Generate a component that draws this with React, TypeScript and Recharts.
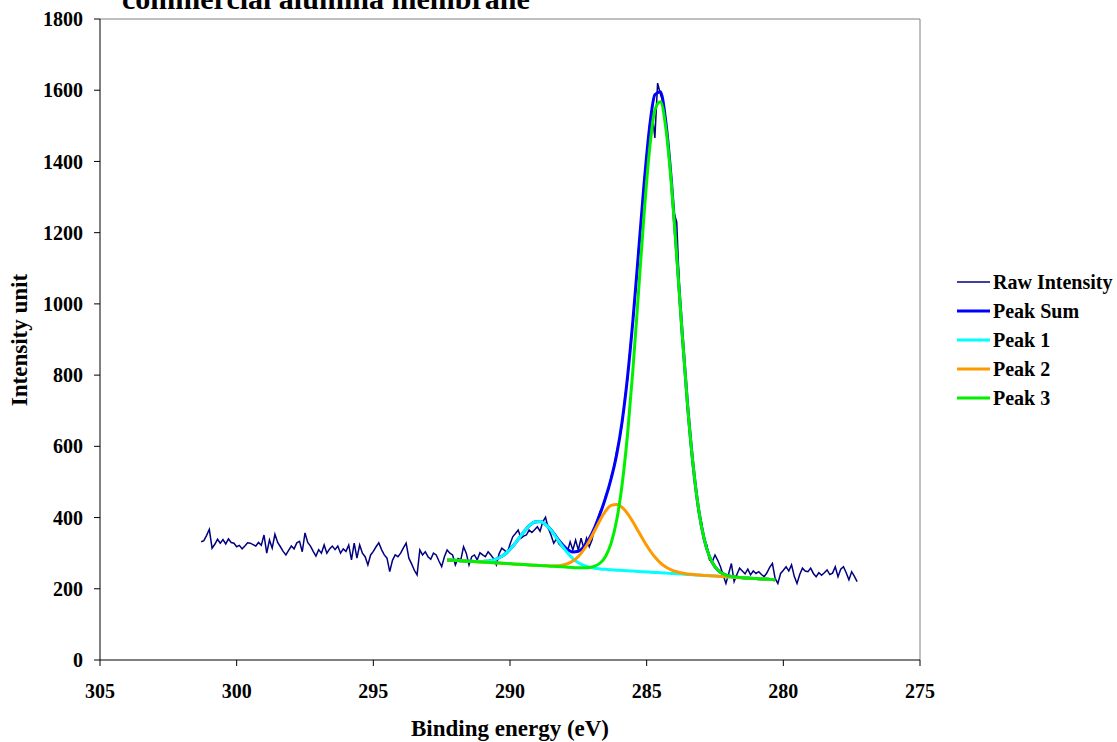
import React from 'react';
import { LineChart, Line, XAxis, YAxis, ReferenceLine } from 'recharts';

const CHART_TITLE = 'commercial alumina membrane';
const X_TITLE = 'Binding energy (eV)';
const Y_TITLE = 'Intensity unit';

const xTicks = [305, 300, 295, 290, 285, 280, 275];
const yTicks = [0, 200, 400, 600, 800, 1000, 1200, 1400, 1600, 1800];

// Raw spectrum: binding energy grid 301.3 eV -> 277.3 eV, 0.1 eV step
const RAW_START = 301.3;
const RAW_STEP = 0.1;
const rawIntensity = [
  332, 335, 350, 367, 314, 325, 339, 328, 338, 326,
  340, 330, 328, 318, 322, 312, 320, 329, 328, 324,
  320, 330, 322, 351, 300, 337, 314, 353, 330, 318,
  305, 295, 308, 320, 312, 329, 333, 304, 357, 330,
  320, 305, 292, 310, 300, 323, 300, 312, 320, 310,
  320, 300, 312, 305, 323, 281, 328, 286, 323, 300,
  290, 267, 295, 305, 318, 329, 310, 295, 286, 248,
  280, 295, 290, 300, 315, 328, 286, 270, 252, 239,
  309, 295, 304, 290, 283, 300, 295, 278, 262, 290,
  309, 300, 295, 267, 285, 281, 318, 300, 267, 290,
  295, 281, 301, 295, 290,
  304, 295, 285, 267, 298,
  314, 308, 300, 325, 346, 355, 365, 342, 348, 351,
  365, 358, 366, 374, 362, 388, 401, 370, 351, 328,
  340, 325, 318, 310, 304, 332, 309, 337, 309, 342,
  314, 342, 318, 337,
  374, 395, 418, 430, 462, 478,
  515, 540, 585, 618, 660, 735, 790, 880, 950, 1045,
  1150, 1230, 1340, 1410, 1500, 1540, 1466, 1620, 1590, 1565,
  1505, 1440, 1345, 1255, 1230, 1040, 905, 820, 700, 630,
  540, 485, 415, 390, 335, 323,
  281, 276, 295, 280, 262, 238, 215, 243, 271, 220,
  240, 258, 250, 242, 255, 239, 250, 243, 248, 240,
  234, 245, 260, 271, 229, 215, 243, 252, 262, 250,
  267, 235, 215, 240, 258, 250, 248, 258, 243, 234,
  245, 238, 245, 253, 240, 244, 262, 234, 255, 262,
  245, 225, 248, 235, 220,
];

// Fitted curves: binding energy grid 292.3 eV -> 280.3 eV, 0.2 eV step
const FIT_START = 292.3;
const FIT_STEP = 0.2;
const peakSum = [
  281.0, 280.1, 279.2, 278.3, 277.5, 276.8, 276.6, 277.1, 279.0, 283.4,
  291.1, 303.0, 319.3, 338.8, 359.2, 376.5, 387.4, 389.0, 381.1, 365.1,
  345.2, 325.6, 310.6, 303.1, 305.2, 318.4, 341.3, 372.7, 411.3, 456.3,
  509.4, 576.1, 668.5, 794.7, 956.3, 1143.0, 1332.4, 1491.6, 1587.4, 1596.0,
  1511.9, 1349.8, 1139.8, 917.3, 713.0, 546.3, 423.0, 340.7, 290.0, 261.4,
  246.3, 238.5, 234.7, 232.7, 231.1, 230.1, 229.2, 228.3, 227.4, 226.4,
  225.5,
];
const peak1 = [
  281.0, 280.1, 279.2, 278.3, 277.5, 276.8, 276.6, 277.1, 279.0, 283.4,
  291.1, 303.0, 319.3, 338.8, 359.2, 376.5, 387.4, 389.0, 380.7, 364.2,
  343.1, 320.9, 301.0, 284.9, 273.3, 265.6, 260.8, 257.7, 255.8, 254.5,
  253.4, 252.3, 251.4, 250.5, 249.6, 248.6, 247.7, 246.8, 245.9, 244.9,
  244.0, 243.1, 242.2, 241.2, 240.3, 239.4, 238.5, 237.5, 236.6, 235.7,
  234.8, 233.8, 232.9, 232.0, 231.1, 230.1, 229.2, 228.3, 227.4, 226.4,
  225.5,
];
const peak2 = [
  281.0, 280.1, 279.2, 278.2, 277.3, 276.4, 275.5, 274.5, 273.6, 272.7,
  271.8, 270.8, 269.9, 269.0, 268.1, 267.1, 266.2, 265.3, 264.8, 264.3,
  264.6, 266.3, 270.3, 277.9, 290.7, 309.6, 334.5, 363.5, 393.3, 418.6,
  434.3, 436.9, 428.6, 411.3, 387.7, 360.8, 334.0, 309.6, 289.1, 273.0,
  261.3, 253.2, 247.8, 244.1, 241.7, 240.1, 238.5, 237.5, 236.6, 235.7,
  234.8, 233.8, 232.9, 232.0, 231.1, 230.1, 229.2, 228.3, 227.4, 226.4,
  225.5,
];
const peak3 = [
  281.0, 280.1, 279.2, 278.2, 277.3, 276.4, 275.5, 274.5, 273.6, 272.7,
  271.8, 270.8, 269.9, 269.0, 268.1, 267.1, 266.2, 265.3, 264.4, 263.4,
  262.5, 261.6, 260.7, 259.7, 258.8, 259.0, 260.0, 263.5, 272.4, 291.6,
  328.3, 391.5, 491.3, 633.9, 818.2, 1030.8, 1246.1, 1428.8, 1544.2, 1567.9,
  1494.6, 1339.7, 1134.2, 914.4, 711.6, 545.6, 423.0, 340.7, 290.0, 261.4,
  246.3, 238.5, 234.7, 232.7, 231.1, 230.1, 229.2, 228.3, 227.4, 226.4,
  225.5,
];

const toPoints = (start: number, step: number, vals: number[]) =>
  vals.map((v, i) => ({ e: Math.round((start - step * i) * 100) / 100, v }));

const series = [
  { name: 'Raw Intensity', data: toPoints(RAW_START, RAW_STEP, rawIntensity), color: '#000080', width: 1.5, type: 'linear' },
  { name: 'Peak Sum', data: toPoints(FIT_START, FIT_STEP, peakSum), color: '#0000FF', width: 3, type: 'monotone' },
  { name: 'Peak 1', data: toPoints(FIT_START, FIT_STEP, peak1), color: '#00FFFF', width: 3, type: 'monotone' },
  { name: 'Peak 2', data: toPoints(FIT_START, FIT_STEP, peak2), color: '#FF9900', width: 3, type: 'monotone' },
  { name: 'Peak 3', data: toPoints(FIT_START, FIT_STEP, peak3), color: '#00F000', width: 3, type: 'monotone' },
];

const FONT = "'Liberation Serif', 'Times New Roman', serif";
const tickStyle = { fill: '#000', fontSize: 20, fontWeight: 700, fontFamily: FONT };

export default function App() {
  return (
    <div style={{ position: 'absolute', left: 0, top: 0, width: 1117, height: 742, background: '#fff' }}>
      <LineChart width={1117} height={742} margin={{ top: 19, right: 197, bottom: 0, left: 0 }}>
        <XAxis
          type="number"
          dataKey="e"
          domain={[275, 305]}
          reversed
          ticks={xTicks}
          interval={0}
          allowDuplicatedCategory={false}
          height={82}
          tickSize={6}
          tickMargin={18}
          tick={tickStyle}
          stroke="#000"
          axisLine={{ stroke: '#000', strokeWidth: 1 }}
          tickLine={{ stroke: '#000' }}
        />
        <YAxis
          type="number"
          domain={[0, 1800]}
          ticks={yTicks}
          interval={0}
          width={100}
          tickSize={6}
          tickMargin={11}
          tick={tickStyle}
          axisLine={{ stroke: '#000', strokeWidth: 1 }}
          tickLine={{ stroke: '#000' }}
        />
        <ReferenceLine y={1800} stroke="#808080" strokeWidth={1} />
        <ReferenceLine x={275} stroke="#808080" strokeWidth={1} />
        {series.map((s) => (
          <Line
            key={s.name}
            data={s.data}
            dataKey="v"
            name={s.name}
            type={s.type as any}
            stroke={s.color}
            strokeWidth={s.width}
            dot={false}
            activeDot={false}
            isAnimationActive={false}
          />
        ))}
      </LineChart>
      <svg
        width={1117}
        height={742}
        style={{ position: 'absolute', left: 0, top: 0, pointerEvents: 'none' }}
      >
        <text x={122} y={9} fontFamily={FONT} fontWeight={700} fontSize={30} fill="#000">
          {CHART_TITLE}
        </text>
        <text
          x={510}
          y={736}
          textAnchor="middle"
          fontFamily={FONT}
          fontWeight={700}
          fontSize={23}
          fill="#000"
        >
          {X_TITLE}
        </text>
        <text
          x={27}
          y={340}
          textAnchor="middle"
          transform="rotate(-90 27 340)"
          fontFamily={FONT}
          fontWeight={700}
          fontSize={23}
          fill="#000"
        >
          {Y_TITLE}
        </text>
        {series.map((s, i) => (
          <g key={s.name}>
            <line x1={957} x2={990} y1={282 + i * 29} y2={282 + i * 29} stroke={s.color} strokeWidth={s.width} />
            <text x={993} y={289 + i * 29} fontFamily={FONT} fontWeight={700} fontSize={20} fill="#000">
              {s.name}
            </text>
          </g>
        ))}
      </svg>
    </div>
  );
}
